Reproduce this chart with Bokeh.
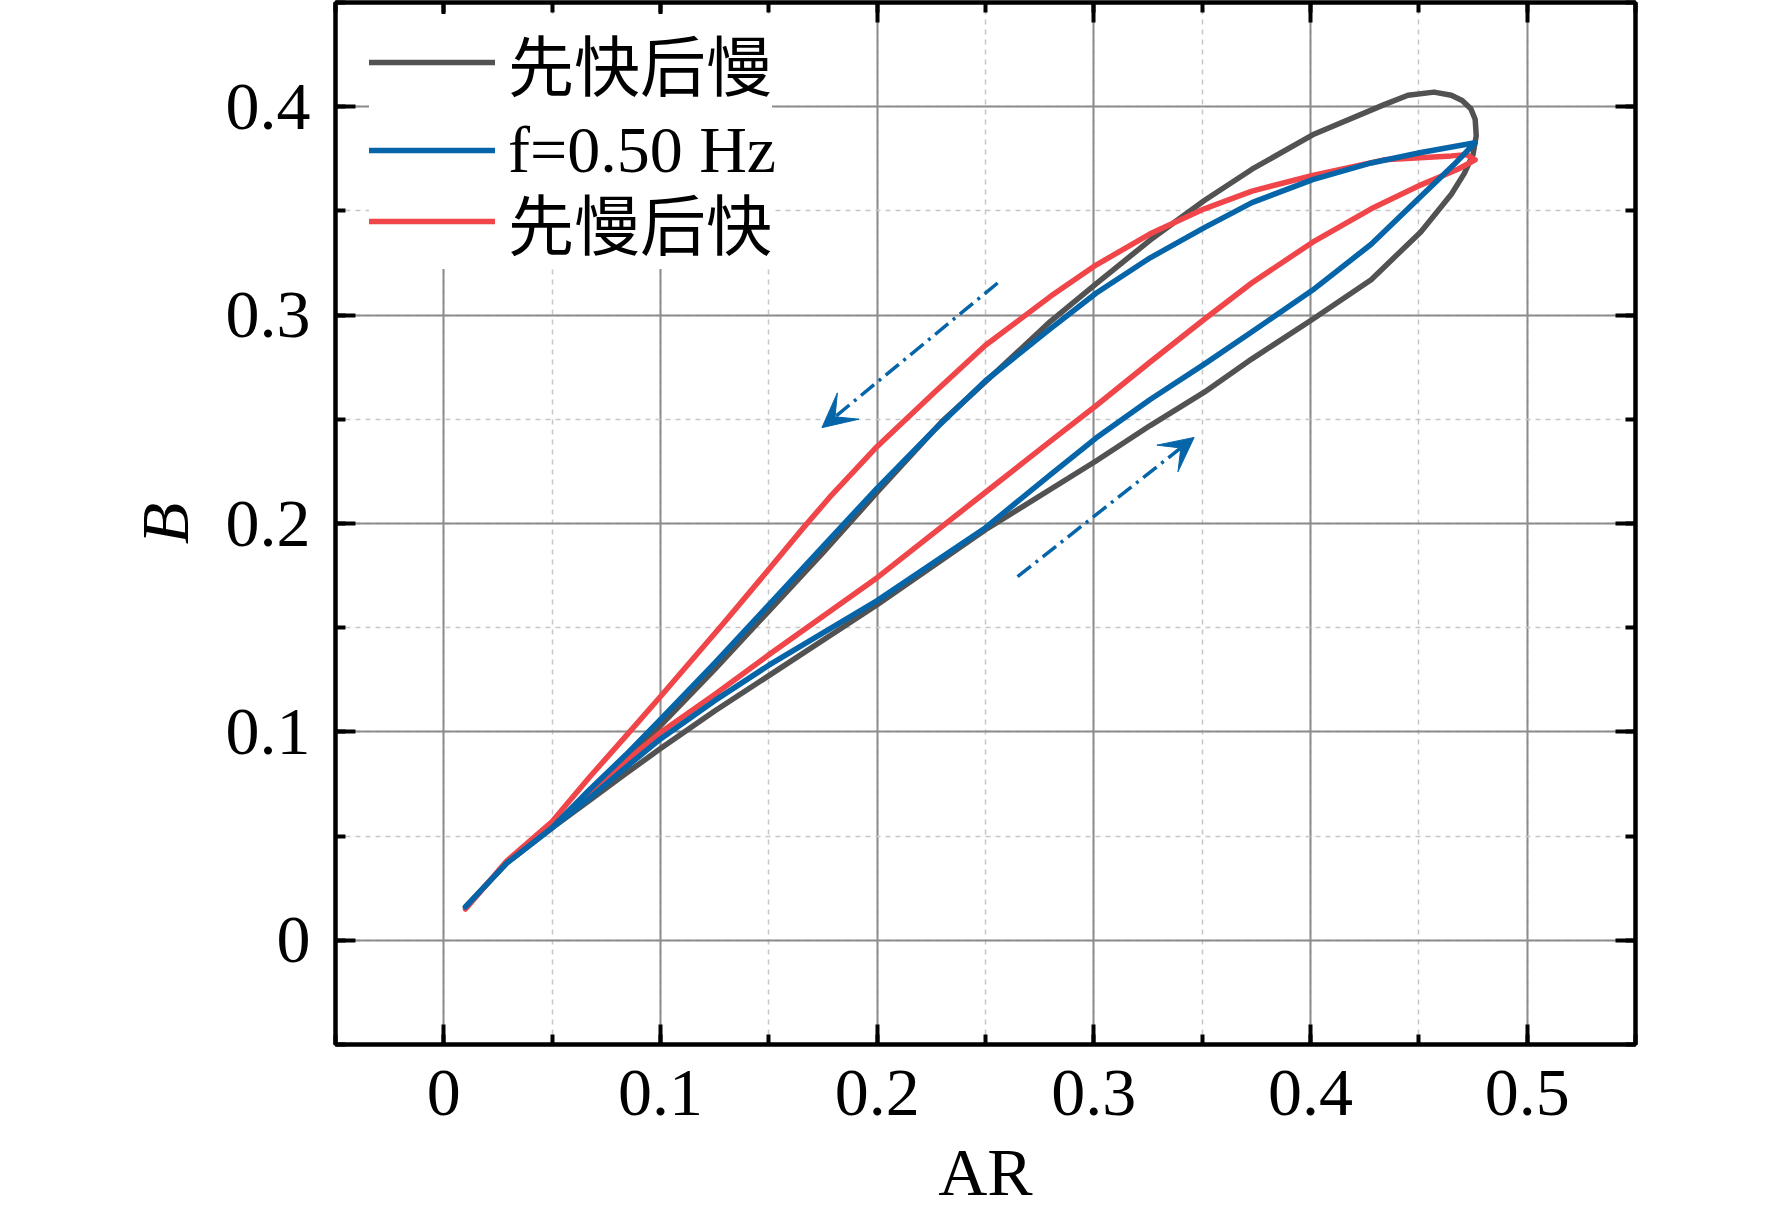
from bokeh.plotting import figure
from bokeh.models import (LinearAxis, SingleIntervalTicker, NumeralTickFormatter,
                          Legend, LegendItem, Arrow, VeeHead)
from bokeh.embed import file_html
from bokeh.resources import INLINE

# ---------------- data ----------------
series_names = ["先快后慢", "f=0.50 Hz", "先慢后快"]

# 先快后慢 (dark gray)
black_lower_x = [0.010, 0.029, 0.050, 0.067, 0.084, 0.100, 0.125, 0.150, 0.200, 0.250, 0.301, 0.326, 0.351, 0.373, 0.401, 0.428, 0.451, 0.465, 0.471, 0.475, 0.4765]
black_lower_y = [0.016, 0.037, 0.054, 0.067, 0.080, 0.092, 0.110, 0.127, 0.161, 0.197, 0.230, 0.247, 0.263, 0.279, 0.298, 0.317, 0.340, 0.358, 0.368, 0.377, 0.386]
black_upper_x = [0.476, 0.474, 0.470, 0.465, 0.457, 0.445, 0.434, 0.401, 0.373, 0.351, 0.326, 0.301, 0.280, 0.250, 0.230, 0.200, 0.175, 0.150, 0.125, 0.100, 0.084, 0.067, 0.050, 0.029, 0.010]
black_upper_y = [0.394, 0.399, 0.403, 0.4055, 0.407, 0.4055, 0.401, 0.3865, 0.370, 0.355, 0.336, 0.315, 0.297, 0.268, 0.249, 0.215, 0.186, 0.158, 0.130, 0.103, 0.087, 0.071, 0.054, 0.037, 0.016]

# f=0.50 Hz (blue)
blue_lower_x = [0.010, 0.029, 0.050, 0.067, 0.084, 0.100, 0.125, 0.150, 0.200, 0.250, 0.280, 0.301, 0.326, 0.351, 0.373, 0.401, 0.428, 0.451, 0.466, 0.476]
blue_lower_y = [0.016, 0.037, 0.054, 0.068, 0.083, 0.0966, 0.115, 0.132, 0.163, 0.198, 0.2235, 0.241, 0.2595, 0.2765, 0.292, 0.312, 0.334, 0.357, 0.372, 0.3827]
blue_upper_x = [0.451, 0.428, 0.401, 0.373, 0.351, 0.326, 0.301, 0.280, 0.250, 0.226, 0.200, 0.175, 0.150, 0.125, 0.100, 0.084, 0.067, 0.050, 0.029, 0.010]
blue_upper_y = [0.378, 0.373, 0.365, 0.354, 0.342, 0.3275, 0.3105, 0.2935, 0.2685, 0.2445, 0.217, 0.189, 0.161, 0.133, 0.106, 0.089, 0.072, 0.054, 0.037, 0.016]

# 先慢后快 (red)
red_lower_x = [0.010, 0.029, 0.050, 0.067, 0.084, 0.100, 0.125, 0.150, 0.200, 0.250, 0.280, 0.301, 0.326, 0.351, 0.373, 0.401, 0.428, 0.451, 0.468, 0.476]
red_lower_y = [0.015, 0.038, 0.054, 0.070, 0.086, 0.0997, 0.118, 0.137, 0.174, 0.215, 0.2395, 0.2565, 0.2775, 0.298, 0.3155, 0.335, 0.351, 0.3625, 0.370, 0.3745]
red_upper_x = [0.472, 0.465, 0.434, 0.401, 0.373, 0.351, 0.326, 0.301, 0.280, 0.250, 0.226, 0.200, 0.178, 0.166, 0.150, 0.129, 0.100, 0.084, 0.067, 0.050, 0.029, 0.010]
red_upper_y = [0.377, 0.3764, 0.3745, 0.367, 0.3595, 0.351, 0.339, 0.324, 0.309, 0.2855, 0.2625, 0.237, 0.2125, 0.198, 0.178, 0.152, 0.117, 0.098, 0.078, 0.057, 0.038, 0.015]

# direction arrows (start -> end, data units)
arrow_x_start = [0.2556, 0.2648]
arrow_y_start = [0.3154, 0.1745]
arrow_x_end = [0.1745, 0.3463]
arrow_y_end = [0.2460, 0.2413]

# ---------------- styling ----------------
C_BLACK = "#525252"
C_BLUE = "#0665a9"
C_RED = "#f0464a"
SERIF = "Liberation Serif"
TICK_FS = "68px"

p = figure(width=1772, height=1212,
           x_range=(-0.05, 0.55), y_range=(-0.05, 0.45),
           output_backend="svg", toolbar_location=None,
           min_border_left=335, min_border_right=137,
           min_border_top=2, min_border_bottom=168,
           background_fill_color="white", border_fill_color="white")

p.outline_line_color = "black"
p.outline_line_width = 4
p.outline_line_alpha = 1


def style_axis(ax, show_labels=True):
    ax.ticker = SingleIntervalTicker(interval=0.1, num_minor_ticks=2)
    ax.formatter = NumeralTickFormatter(format="0.[0]")
    ax.axis_line_color = "black"
    ax.axis_line_width = 4
    ax.major_tick_in = 20
    ax.major_tick_out = 0
    ax.minor_tick_in = 10
    ax.minor_tick_out = 0
    ax.major_tick_line_width = 4
    ax.minor_tick_line_width = 4
    ax.major_tick_line_color = "black"
    ax.minor_tick_line_color = "black"
    ax.major_label_text_font = SERIF
    if show_labels:
        ax.major_label_text_font_size = TICK_FS
        ax.major_label_text_color = "black"
    else:
        ax.major_label_text_font_size = "1px"
        ax.major_label_text_color = None
        ax.major_label_standoff = 0


xb = p.below[0]
yl = p.left[0]
style_axis(xb)
style_axis(yl)
xb.major_label_standoff = 26
yl.major_label_standoff = 25

xb.axis_label = "AR"
xb.axis_label_text_font = SERIF
xb.axis_label_text_font_style = "normal"
xb.axis_label_text_font_size = TICK_FS
xb.axis_label_text_color = "black"
xb.axis_label_standoff = 16

yl.axis_label = "B"
yl.axis_label_text_font = SERIF
yl.axis_label_text_font_style = "italic"
yl.axis_label_text_font_size = TICK_FS
yl.axis_label_text_color = "black"
yl.axis_label_standoff = 20

xt = LinearAxis()
style_axis(xt, show_labels=False)
p.add_layout(xt, "above")
yr = LinearAxis()
style_axis(yr, show_labels=False)
p.add_layout(yr, "right")

for g in (p.xgrid[0], p.ygrid[0]):
    g.ticker = SingleIntervalTicker(interval=0.1, num_minor_ticks=2)
    g.grid_line_color = "#8c8c8c"
    g.grid_line_width = 2
    g.minor_grid_line_color = "#c6c6c6"
    g.minor_grid_line_width = 1.5
    g.minor_grid_line_dash = "5 5"

# ---------------- curves ----------------
black_x = black_lower_x + black_upper_x
black_y = black_lower_y + black_upper_y
blue_x = blue_lower_x + blue_upper_x
blue_y = blue_lower_y + blue_upper_y
red_x = red_lower_x + red_upper_x
red_y = red_lower_y + red_upper_y

LW = 5.5
r_black = p.line(black_x, black_y, line_color=C_BLACK, line_width=LW, line_join="round", line_cap="round")
r_red = p.line(red_x, red_y, line_color=C_RED, line_width=LW, line_join="round", line_cap="round")
r_blue = p.line(blue_x, blue_y, line_color=C_BLUE, line_width=LW, line_join="round", line_cap="round")

for xs, ys, xe, ye in zip(arrow_x_start, arrow_y_start, arrow_x_end, arrow_y_end):
    p.add_layout(Arrow(end=VeeHead(size=34, fill_color=C_BLUE, line_color=C_BLUE, line_width=1),
                       x_start=xs, y_start=ys, x_end=xe, y_end=ye,
                       line_color=C_BLUE, line_width=3.5, line_dash="17 6 3 6"))

# ---------------- legend (one box per row, to pin each row's position) ----------------
row_renderers = [r_black, r_blue, r_red]
row_y = [934, 854, 775]      # legend box bottom, px above the frame's bottom edge
for name, rend, ly in zip(series_names, row_renderers, row_y):
    lg = Legend(items=[LegendItem(label=name, renderers=[rend])],
                location=(34, ly), orientation="vertical",
                glyph_width=126, glyph_height=80, spacing=0,
                label_standoff=13, padding=0, margin=0,
                label_text_font="Liberation Serif, Noto Sans CJK SC",
                label_text_font_size="66px", label_text_color="black",
                label_height=80,
                background_fill_color="white", background_fill_alpha=1.0,
                border_line_color=None)
    p.add_layout(lg)

open("out.html", "w").write(file_html(p, INLINE))
